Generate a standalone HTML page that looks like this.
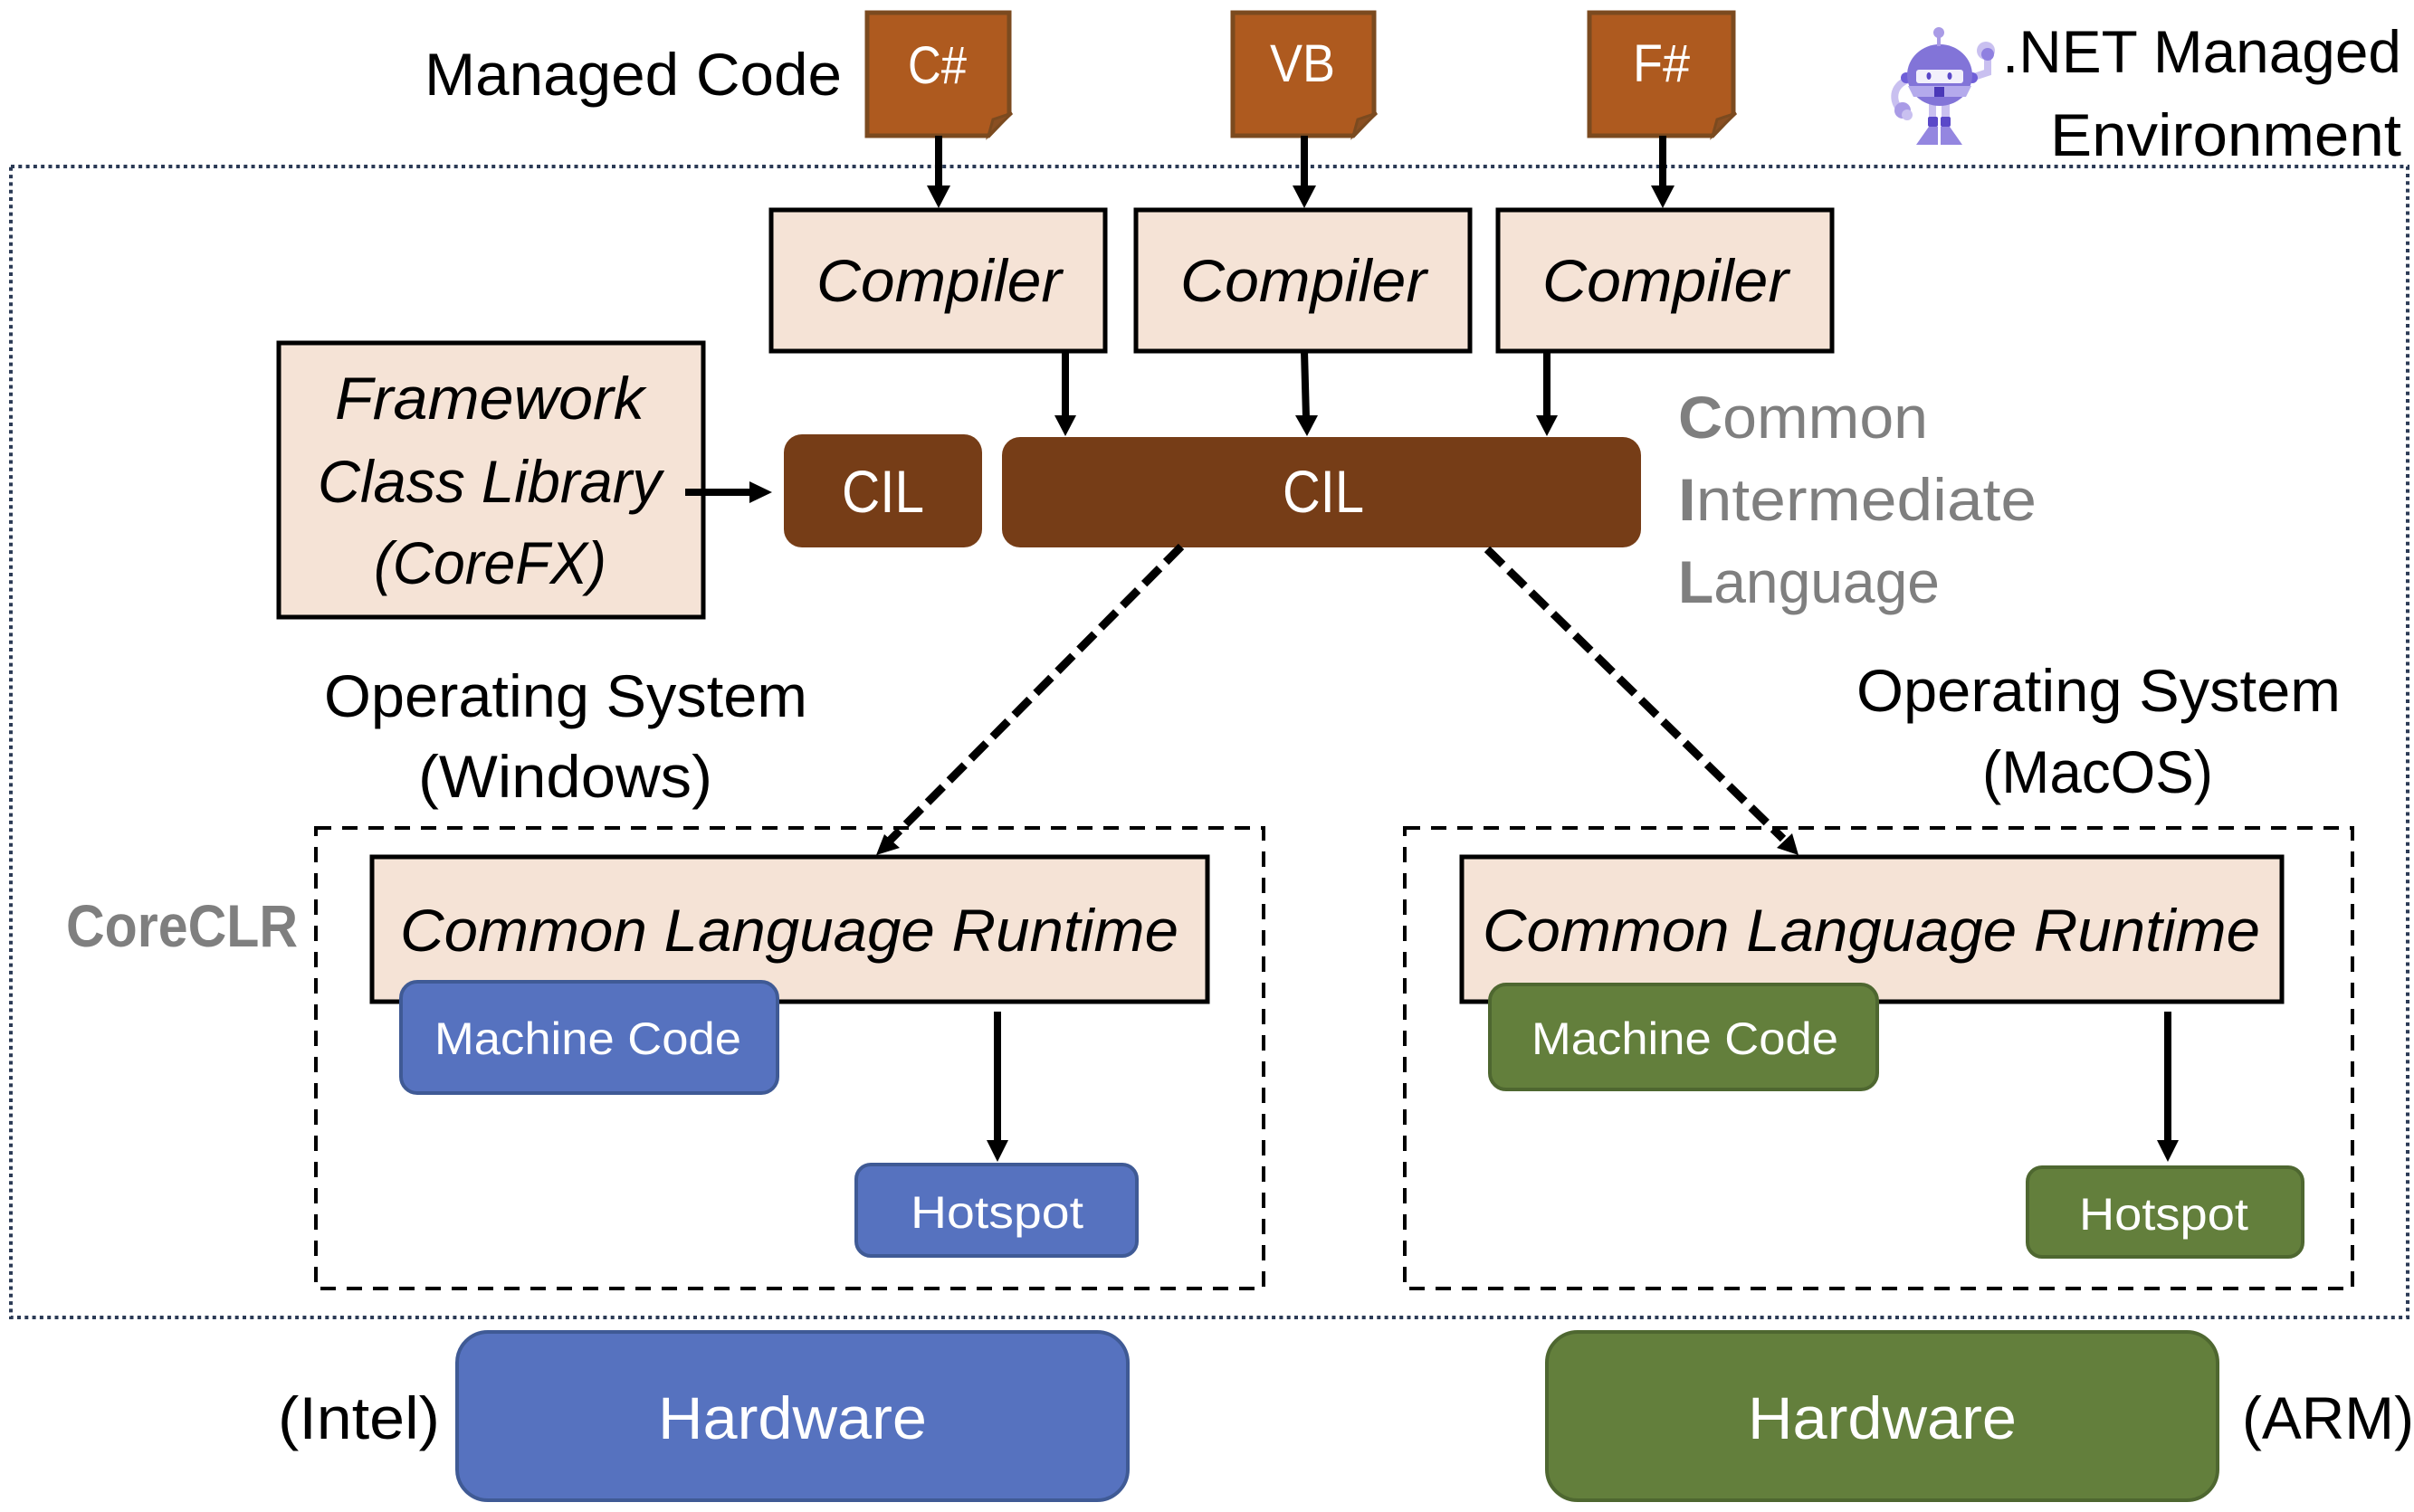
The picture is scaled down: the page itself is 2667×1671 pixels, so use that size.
<!DOCTYPE html>
<html><head><meta charset="utf-8"><style>
html,body{margin:0;padding:0;background:#fff}
svg{display:block}
text{font-family:"Liberation Sans",sans-serif;font-size:66px;fill:#000}
.i{font-style:italic}
.w{fill:#fff}
.g{fill:#7f7f7f}
.b{fill:#f5e3d6;stroke:#000;stroke-width:5}
.n{fill:#ae5a1f;stroke:#7b4a1f;stroke-width:5}
.c{fill:#763d17}
.bl{fill:#5672bf;stroke:#3f5a95;stroke-width:4}
.gr{fill:#637f3c;stroke:#4e6730;stroke-width:4}
.l{stroke:#000;stroke-width:8;fill:none}
</style></head><body>
<svg xmlns="http://www.w3.org/2000/svg" width="2667" height="1671" viewBox="0 0 2667 1671">
<rect width="2667" height="1671" fill="#fff"/>
<rect x="12" y="184" width="2648" height="1272" fill="none" stroke="#2b3a55" stroke-width="4" stroke-dasharray="4 4.3"/>

<!-- robot -->
<g>
<path d="M2108 88 C2090 95 2090 112 2100 122" fill="none" stroke="#c9c0f0" stroke-width="8"/>
<circle cx="2102" cy="122" r="9" fill="#a99be6"/>
<circle cx="2107" cy="127" r="6" fill="#c9c0f0"/>
<path d="M2178 86 L2196 80 L2196 62" fill="none" stroke="#c9c0f0" stroke-width="8"/>
<circle cx="2194" cy="56" r="10" fill="#c9c0f0"/>
<circle cx="2196" cy="60" r="7" fill="#8f80e0"/>
<circle cx="2106" cy="86" r="6" fill="#6f5fd8"/>
<circle cx="2179" cy="86" r="6" fill="#6f5fd8"/>
<rect x="2131" y="115" width="8" height="15" fill="#c9c0f0"/><rect x="2145" y="115" width="9" height="15" fill="#c9c0f0"/>
<rect x="2130" y="129" width="11" height="11" rx="2" fill="#5a48c8"/><rect x="2144" y="129" width="11" height="11" rx="2" fill="#5a48c8"/>
<path d="M2117 160 L2131 140 H2141 V160Z M2144 160 V140 H2154 L2168 160Z" fill="#9486e0"/>
<ellipse cx="2143" cy="83" rx="36" ry="34" fill="#8274d8"/>
<path d="M2108 95 H2178 L2172 107 H2114Z" fill="#b4aaec"/>
<circle cx="2142" cy="36" r="6" fill="#a99be6"/>
<rect x="2140" y="40" width="4" height="11" fill="#a99be6"/>
<rect x="2117" y="77" width="52" height="15" rx="3" fill="#f2f0fb"/>
<ellipse cx="2131" cy="84" rx="2.5" ry="4" fill="#5a48c8"/><ellipse cx="2154" cy="84" rx="2.5" ry="4" fill="#5a48c8"/>
<rect x="2137" y="96" width="11" height="11" fill="#4a38b8"/>
</g>

<!-- top row -->
<text x="469" y="105" textLength="461" lengthAdjust="spacingAndGlyphs">Managed Code</text>
<text x="2212" y="80" textLength="441" lengthAdjust="spacingAndGlyphs">.NET Managed</text>
<text x="2265" y="172" textLength="388" lengthAdjust="spacingAndGlyphs">Environment</text>

<path class="n" d="M958 14H1115V126L1092 150H958Z"/>
<path d="M1092 150L1097 132L1118 125Z" fill="#8a4f22" stroke="#7b4a1f" stroke-width="3"/>
<text class="w" x="1003" y="92" textLength="65" lengthAdjust="spacingAndGlyphs" style="font-size:58px">C#</text>
<path class="n" d="M1362 14H1518V126L1495 150H1362Z"/>
<path d="M1495 150L1500 132L1521 125Z" fill="#8a4f22" stroke="#7b4a1f" stroke-width="3"/>
<text class="w" x="1403" y="90" textLength="72" lengthAdjust="spacingAndGlyphs" style="font-size:58px">VB</text>
<path class="n" d="M1756 14H1915V126L1892 150H1756Z"/>
<path d="M1892 150L1897 132L1918 125Z" fill="#8a4f22" stroke="#7b4a1f" stroke-width="3"/>
<text class="w" x="1804" y="90" textLength="63" lengthAdjust="spacingAndGlyphs" style="font-size:58px">F#</text>

<!-- compilers -->
<rect class="b" x="852" y="232" width="369" height="156"/>
<rect class="b" x="1255" y="232" width="369" height="156"/>
<rect class="b" x="1655" y="232" width="369" height="156"/>
<text class="i" x="902" y="333" textLength="271" lengthAdjust="spacingAndGlyphs">Compiler</text>
<text class="i" x="1304" y="333" textLength="272" lengthAdjust="spacingAndGlyphs">Compiler</text>
<text class="i" x="1704" y="333" textLength="272" lengthAdjust="spacingAndGlyphs">Compiler</text>

<!-- arrows top -->
<g class="l">
<path d="M1037 150V208"/><path d="M1441 150V208"/><path d="M1837 150V208"/>
<path d="M1177 388V462"/><path d="M1441 388L1443 462"/><path d="M1709 388V462"/>
<path d="M1102 1118V1262"/><path d="M2395 1118V1262"/>
</g>
<g fill="#000">
<path d="M1024 205H1050L1037 230Z"/><path d="M1428 205H1454L1441 230Z"/><path d="M1824 205H1850L1837 230Z"/>
<path d="M1165 459H1189L1177 482Z"/><path d="M1431 459H1456L1444 482Z"/><path d="M1697 459H1721L1709 482Z"/>
<path d="M1090 1260H1114L1102 1284Z"/><path d="M2383 1260H2407L2395 1284Z"/>
</g>

<!-- framework -->
<rect class="b" x="308" y="379" width="469" height="303"/>
<text class="i" x="370" y="463" textLength="342" lengthAdjust="spacingAndGlyphs">Framework</text>
<text class="i" x="351" y="555" textLength="380" lengthAdjust="spacingAndGlyphs">Class Library</text>
<text class="i" x="413" y="645" textLength="257" lengthAdjust="spacingAndGlyphs">(CoreFX)</text>
<path class="l" d="M757 544H832"/>
<path d="M828 532V556L853 544Z" fill="#000"/>

<!-- CIL -->
<rect class="c" x="866" y="480" width="219" height="125" rx="20"/>
<rect class="c" x="1107" y="483" width="706" height="122" rx="20"/>
<text class="w" x="930" y="566" textLength="91" lengthAdjust="spacingAndGlyphs">CIL</text>
<text class="w" x="1417" y="566" textLength="90" lengthAdjust="spacingAndGlyphs">CIL</text>

<text class="g" x="1854" y="484" textLength="276" lengthAdjust="spacingAndGlyphs"><tspan font-weight="bold">C</tspan>ommon</text>
<text class="g" x="1854" y="575" textLength="396" lengthAdjust="spacingAndGlyphs"><tspan font-weight="bold">I</tspan>ntermediate</text>
<text class="g" x="1854" y="666" textLength="289" lengthAdjust="spacingAndGlyphs"><tspan font-weight="bold">L</tspan>anguage</text>

<!-- OS labels -->
<text x="358" y="792" textLength="534" lengthAdjust="spacingAndGlyphs">Operating System</text>
<text x="462" y="881" textLength="325" lengthAdjust="spacingAndGlyphs">(Windows)</text>
<text x="2051" y="786" textLength="535" lengthAdjust="spacingAndGlyphs">Operating System</text>
<text x="2190" y="876" textLength="255" lengthAdjust="spacingAndGlyphs">(MacOS)</text>

<text class="g" x="73" y="1046" textLength="256" lengthAdjust="spacingAndGlyphs" font-weight="bold">CoreCLR</text>

<!-- dashed containers -->
<rect x="349" y="915" width="1047" height="509" fill="none" stroke="#000" stroke-width="4" stroke-dasharray="17 12"/>
<rect x="1552" y="915" width="1047" height="509" fill="none" stroke="#000" stroke-width="4" stroke-dasharray="17 12"/>

<!-- CLR -->
<rect class="b" x="411" y="947" width="923" height="160"/>
<rect class="b" x="1615" y="947" width="906" height="160"/>
<text class="i" x="442" y="1051" textLength="860" lengthAdjust="spacingAndGlyphs">Common Language Runtime</text>
<text class="i" x="1638" y="1051" textLength="859" lengthAdjust="spacingAndGlyphs">Common Language Runtime</text>

<!-- diagonals -->
<g fill="none" stroke="#000" stroke-width="9" stroke-dasharray="24 10">
<path d="M1305 604L982 930"/>
<path d="M1643 607L1970 927"/>
</g>
<path d="M968 945L977 922L994 937Z" fill="#000"/>
<path d="M1987 945L1980 921L1963 937Z" fill="#000"/>

<!-- machine code / hotspot -->
<rect class="bl" x="443" y="1085" width="416" height="123" rx="18"/>
<rect class="gr" x="1646" y="1088" width="428" height="116" rx="18"/>
<text class="w" x="480" y="1165" textLength="339" lengthAdjust="spacingAndGlyphs" style="font-size:50px">Machine Code</text>
<text class="w" x="1692" y="1165" textLength="339" lengthAdjust="spacingAndGlyphs" style="font-size:50px">Machine Code</text>
<rect class="bl" x="946" y="1287" width="310" height="101" rx="16"/>
<rect class="gr" x="2240" y="1290" width="304" height="99" rx="16"/>
<text class="w" x="1006" y="1357" textLength="191" lengthAdjust="spacingAndGlyphs" style="font-size:50px">Hotspot</text>
<text class="w" x="2297" y="1359" textLength="187" lengthAdjust="spacingAndGlyphs" style="font-size:50px">Hotspot</text>

<!-- hardware -->
<rect class="bl" x="505" y="1472" width="741" height="186" rx="34"/>
<rect class="gr" x="1709" y="1472" width="741" height="186" rx="34"/>
<text class="w" x="727" y="1590" textLength="297" lengthAdjust="spacingAndGlyphs">Hardware</text>
<text class="w" x="1931" y="1590" textLength="297" lengthAdjust="spacingAndGlyphs">Hardware</text>
<text x="307" y="1590" textLength="179" lengthAdjust="spacingAndGlyphs">(Intel)</text>
<text x="2477" y="1590" textLength="190" lengthAdjust="spacingAndGlyphs">(ARM)</text>
</svg>
</body></html>
